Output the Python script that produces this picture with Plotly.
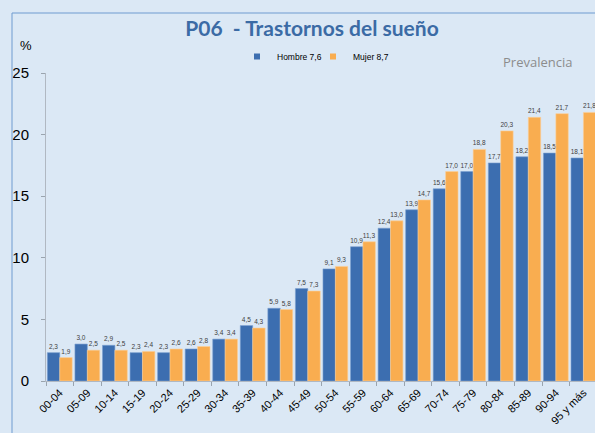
import plotly.graph_objects as go

categories = ["00-04", "05-09", "10-14", "15-19", "20-24", "25-29", "30-34", "35-39",
              "40-44", "45-49", "50-54", "55-59", "60-64", "65-69", "70-74", "75-79",
              "80-84", "85-89", "90-94", "95 y más"]
hombre = [2.3, 3.0, 2.9, 2.3, 2.3, 2.6, 3.4, 4.5, 5.9, 7.5, 9.1, 10.9, 12.4, 13.9, 15.6,
          17.0, 17.7, 18.2, 18.5, 18.1]
mujer = [1.9, 2.5, 2.5, 2.4, 2.6, 2.8, 3.4, 4.3, 5.8, 7.3, 9.3, 11.3, 13.0, 14.7, 17.0,
         18.8, 20.3, 21.4, 21.7, 21.8]
legend_names = ["Hombre 7,6", "Mujer 8,7"]
y_ticks = [0, 5, 10, 15, 20, 25]

BLUE = "#3c6eb0"
ORANGE = "#f9ad50"
BG = "#dbe8f5"
SANS = "Liberation Sans, Arial, sans-serif"

W, H = 595, 433
L, T, B = 46, 73, 52
pw, ph = W - L, H - T - B

def px_x(x):
    return (x - L) / pw

def px_y(y):
    return (H - B - y) / ph

fig = go.Figure()
for vals, col, edge in [(hombre, BLUE, "#7aa0d0"), (mujer, ORANGE, "#fbd09a")]:
    fig.add_trace(go.Bar(
        x=categories, y=vals, marker=dict(color=col, line=dict(color=edge, width=0.6)),
        texttemplate="%{y:.1f}", textposition="outside", constraintext="none",
        textfont=dict(size=6.5, color="#404040", family=SANS),
        cliponaxis=False, showlegend=False))

for name, col, lg in zip(legend_names, [BLUE, ORANGE], ["legend", "legend2"]):
    fig.add_trace(go.Scatter(x=[categories[0]], y=[None], mode="markers", name=name,
                             legend=lg,
                             marker=dict(symbol="square", size=6, color=col)))

legend_common = dict(orientation="h", xref="container", yref="container",
                     xanchor="left", yanchor="middle", bgcolor="rgba(0,0,0,0)",
                     font=dict(size=8.5, color="black", family=SANS), itemwidth=30)

fig.update_layout(
    width=W, height=H,
    margin=dict(l=L, r=0, t=T, b=B, pad=0, autoexpand=False),
    paper_bgcolor=BG, plot_bgcolor=BG,
    separators=",.",
    barmode="group", bargap=0.1, bargroupgap=0,
    font=dict(family=SANS, color="black"),
    title=dict(text="<b>P06  - Trastornos del sueño</b>", xref="container", yref="container",
               x=312 / W, y=1 - 29 / H, xanchor="center", yanchor="middle",
               font=dict(family="Lato, Open Sans, sans-serif", size=21, color="#3b6ba5")),
    legend=dict(x=237 / W, y=1 - 56.5 / H, **legend_common),
    legend2=dict(x=313 / W, y=1 - 56.5 / H, **legend_common),
    xaxis=dict(type="category", range=[-0.5, 19.42], tickangle=-45, tickson="boundaries",
               ticks="outside", ticklen=4, tickcolor="#9aa4ae", showline=True,
               linecolor="#b0b8c2", linewidth=1, showgrid=False, zeroline=False,
               automargin=False,
               tickfont=dict(size=11, color="black", family=SANS)),
    yaxis=dict(range=[0, 25], tickvals=y_ticks, ticks="outside", ticklen=4,
               tickcolor="#9aa4ae", showline=True, linecolor="#b0b8c2", linewidth=1,
               showgrid=False, zeroline=False, ticklabelstandoff=9, automargin=False,
               tickfont=dict(size=15, color="black", family=SANS)),
    annotations=[
        dict(text="%", xref="paper", yref="paper", x=px_x(26), y=px_y(45), showarrow=False,
             xanchor="center", yanchor="middle", font=dict(size=13, color="black",
                                                           family=SANS)),
        dict(text="Prevalencia", xref="paper", yref="paper", x=px_x(537), y=px_y(62),
             showarrow=False, xanchor="center", yanchor="middle",
             font=dict(size=13, color="#8c8c8c", family="Open Sans, Liberation Sans")),
    ],
    shapes=[
        dict(type="line", xref="paper", yref="paper", x0=px_x(12), x1=px_x(600),
             y0=px_y(13), y1=px_y(13), line=dict(color="#6e9bd0", width=1)),
        dict(type="line", xref="paper", yref="paper", x0=px_x(12), x1=px_x(12),
             y0=px_y(13), y1=px_y(440), line=dict(color="#6e9bd0", width=1)),
    ],
)

fig.write_html("out.html", config={"displayModeBar": False},
               post_script="document.body.style.margin='0';document.body.style.overflow='hidden';")
